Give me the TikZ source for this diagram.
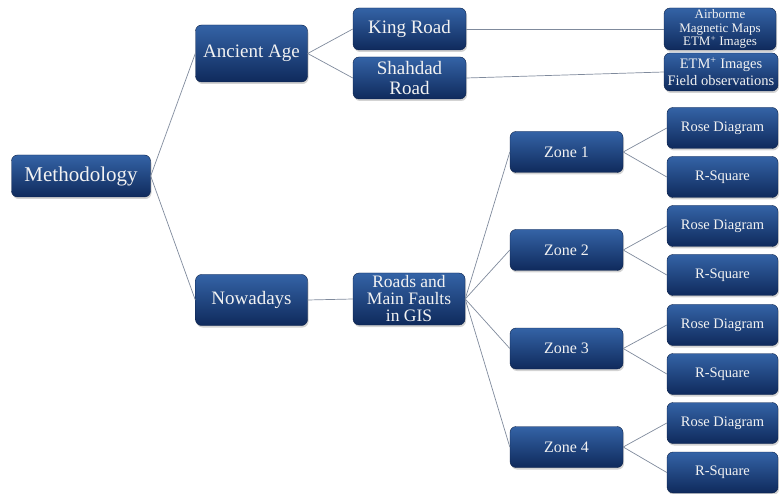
\documentclass[tikz,border=0pt]{standalone}
\usepackage{fontspec}
\setmainfont{Liberation Serif}
\usetikzlibrary{shadows}
\definecolor{boxtop}{HTML}{3463A6}
\definecolor{boxbot}{HTML}{0F2A5C}
\definecolor{txt}{HTML}{F2F2F2}
\definecolor{lnk}{HTML}{7F8A9C}
\tikzset{
  box/.style={draw=boxbot!80!black, line width=0.4pt, rounded corners=6pt,
    top color=boxtop, bottom color=boxbot, text=txt, align=center,
    inner sep=1pt, minimum width=112pt, minimum height=41pt,
    drop shadow={shadow xshift=1pt, shadow yshift=-2pt, opacity=0.35}},
  big/.style={font=\fontsize{19}{19.5}\selectfont},
  mid/.style={font=\fontsize{16}{17}\selectfont},
  small/.style={font=\fontsize{14.5}{15}\selectfont},
  tiny/.style={font=\fontsize{13}{13.5}\selectfont},
  link/.style={draw=lnk, line width=0.7pt}
}
\begin{document}
\begin{tikzpicture}[x=1pt,y=-1pt]
\useasboundingbox (0,0) rectangle (779,494);
\node[box, font=\fontsize{21}{22}\selectfont, minimum width=139pt, minimum height=42pt] (meth) at (81,176) {Methodology};
\node[box, big, minimum height=57pt] (anc) at (251.5,53.5) {Ancient Age};
\node[box, big, minimum height=51pt] (now) at (251.5,300) {Nowadays};
\node[box, big, minimum width=113pt, minimum height=42pt] (king) at (409.5,29) {King Road};
\node[box, big, minimum width=113pt, minimum height=42pt] (shah) at (409.5,78) {Shahdad\\Road};
\node[box, tiny, minimum width=112pt, minimum height=42pt] (air) at (720,29) {Airborme\\Magnetic Maps\\ETM\textsuperscript{+} Images};
\node[box, small, minimum width=114pt, minimum height=38pt] (etm) at (721,72) {ETM\textsuperscript{+} Images\\[2pt]Field observations};
\node[box, font=\fontsize{17.5}{17}\selectfont, minimum width=112pt, minimum height=52pt] (roads) at (409,299) {Roads and\\Main Faults\\in GIS};
\foreach \i/\y in {1/152,2/250,3/348.5,4/447}{
  \node[box, mid, minimum width=113pt] (z\i) at (566.5,\y) {Zone \i};
}
\foreach \i/\y in {1/128,2/226,3/325,4/423}{
  \node[box, small, minimum width=111pt] (rose\i) at (722.5,\y) {Rose Diagram};
}
\foreach \i/\y in {1/177,2/275,3/374,4/472.5}{
  \node[box, small, minimum width=111pt] (rsq\i) at (722.5,\y) {R-Square};
}
\draw[link] (meth.east) -- (anc.west);
\draw[link] (meth.east) -- (now.west);
\draw[link] (anc.east) -- (king.west);
\draw[link] (anc.east) -- (shah.west);
\draw[link] (king.east) -- (air.west);
\draw[link] (shah.east) -- (etm.west);
\draw[link] (now.east) -- (roads.west);
\foreach \i in {1,2,3,4}{
  \draw[link] (roads.east) -- (z\i.west);
  \draw[link] (z\i.east) -- (rose\i.west);
  \draw[link] (z\i.east) -- (rsq\i.west);
}
\end{tikzpicture}
\end{document}
